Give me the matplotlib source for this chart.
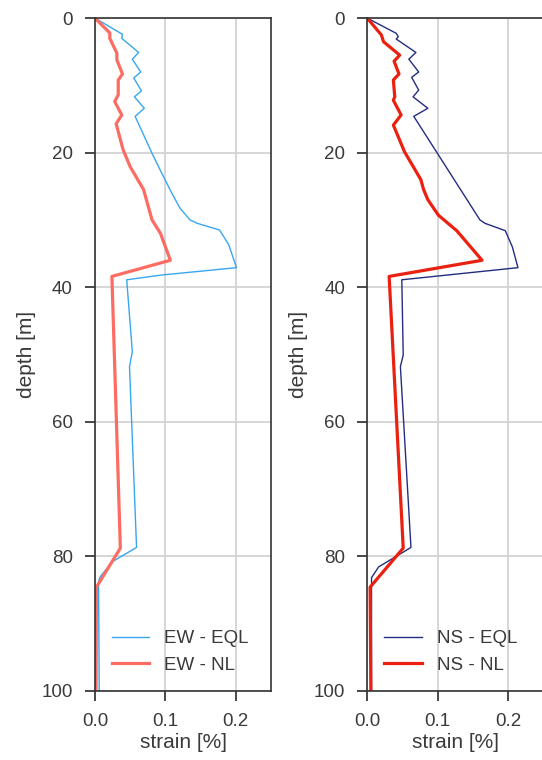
import matplotlib
matplotlib.use("Agg")
import matplotlib.pyplot as plt

# strain [%] vs depth [m]
ew_eql_depth = [0, 2.4, 3.0, 5.1, 6.1, 8.0, 8.9, 10.8, 11.7, 13.4, 14.6, 20.1, 23.1, 26.0, 28.3,
                30.0, 30.5, 31.5, 33.7, 37.1, 38.2, 38.9, 49.6, 51.8, 78.7, 80.8, 83.1, 83.8, 100]
ew_eql_strain = [0, 0.039, 0.038, 0.062, 0.053, 0.065, 0.055, 0.066, 0.056, 0.070, 0.057, 0.081, 0.095,
                 0.109, 0.121, 0.135, 0.145, 0.177, 0.190, 0.201, 0.094, 0.045, 0.053, 0.049, 0.059,
                 0.025, 0.007, 0.005, 0.006]

ew_nl_depth = [0, 2.2, 3.0, 5.2, 6.2, 8.3, 9.2, 11.4, 12.4, 14.4, 15.7, 19.6, 22.1, 25.5, 30.0,
               32.0, 36.0, 38.4, 78.8, 84.6, 100]
ew_nl_strain = [0, 0.021, 0.021, 0.031, 0.031, 0.039, 0.033, 0.033, 0.028, 0.038, 0.030, 0.040, 0.050,
                0.069, 0.081, 0.093, 0.107, 0.024, 0.036, 0.002, 0.0015]

ns_eql_depth = [0, 2.25, 2.75, 3.1, 5.1, 6.1, 8.0, 8.8, 10.7, 11.7, 13.4, 14.6, 30.0, 30.5, 31.6,
                34.0, 37.1, 38.9, 50.1, 51.8, 78.7, 81.6, 83.2, 100]
ns_eql_strain = [0, 0.041, 0.044, 0.041, 0.069, 0.059, 0.073, 0.063, 0.073, 0.065, 0.086, 0.066, 0.160,
                 0.167, 0.196, 0.206, 0.214, 0.049, 0.051, 0.047, 0.062, 0.016, 0.006, 0.006]

ns_nl_depth = [0, 2.5, 3.5, 5.5, 6.4, 8.3, 9.2, 11.7, 12.2, 14.4, 15.9, 19.9, 24.0, 25.5, 27.0,
               29.3, 31.6, 36.0, 38.4, 78.8, 84.6, 100]
ns_nl_strain = [0, 0.020, 0.023, 0.046, 0.038, 0.045, 0.037, 0.039, 0.037, 0.048, 0.037, 0.053, 0.076,
                0.080, 0.086, 0.101, 0.127, 0.163, 0.031, 0.051, 0.004, 0.005]

x_ticks = [0.0, 0.1, 0.2]
y_ticks = [0, 20, 40, 60, 80, 100]

plt.rcParams["font.family"] = ["Liberation Sans", "DejaVu Sans"]
plt.rcParams["text.color"] = "#3a3a3a"
plt.rcParams["axes.labelcolor"] = "#3a3a3a"
plt.rcParams["xtick.labelcolor"] = "#3a3a3a"
plt.rcParams["ytick.labelcolor"] = "#3a3a3a"
plt.rcParams["xtick.color"] = "#2a2a2a"
plt.rcParams["ytick.color"] = "#2a2a2a"

fig = plt.figure(figsize=(5.42, 7.6), dpi=100)
ax1 = fig.add_axes([0.1753, 0.0912, 0.3247, 0.8849])
ax2 = fig.add_axes([0.6777, 0.0912, 0.3247, 0.8849])

panels = [
    (ax1, ew_eql_strain, ew_eql_depth, ew_nl_strain, ew_nl_depth, "#38a6f0", "#fc6c62", "EW"),
    (ax2, ns_eql_strain, ns_eql_depth, ns_nl_strain, ns_nl_depth, "#252d80", "#ea2110", "NS"),
]

for ax, s_eql, d_eql, s_nl, d_nl, c_eql, c_nl, comp in panels:
    ax.plot(s_eql, d_eql, color=c_eql, lw=1.0, label=comp + " - EQL")
    ax.plot(s_nl, d_nl, color=c_nl, lw=2.3, label=comp + " - NL")
    ax.set_xlim(0, 0.25)
    ax.set_ylim(100, 0)
    ax.set_xticks(x_ticks)
    ax.set_yticks(y_ticks)
    ax.grid(True, color="#d3d3d3", lw=1.3)
    ax.set_axisbelow(True)
    for sp in ax.spines.values():
        sp.set_color("#333333")
        sp.set_linewidth(1.2)
    ax.tick_params(labelsize=13.5, length=7, width=1.2, pad=9)
    ax.set_xlabel("strain [%]", fontsize=15, labelpad=2)
    ax.set_ylabel("depth [m]", fontsize=15, labelpad=4)
    ax.legend(loc="lower left", frameon=False, fontsize=13.5)

fig.savefig("out.png", dpi=100)
